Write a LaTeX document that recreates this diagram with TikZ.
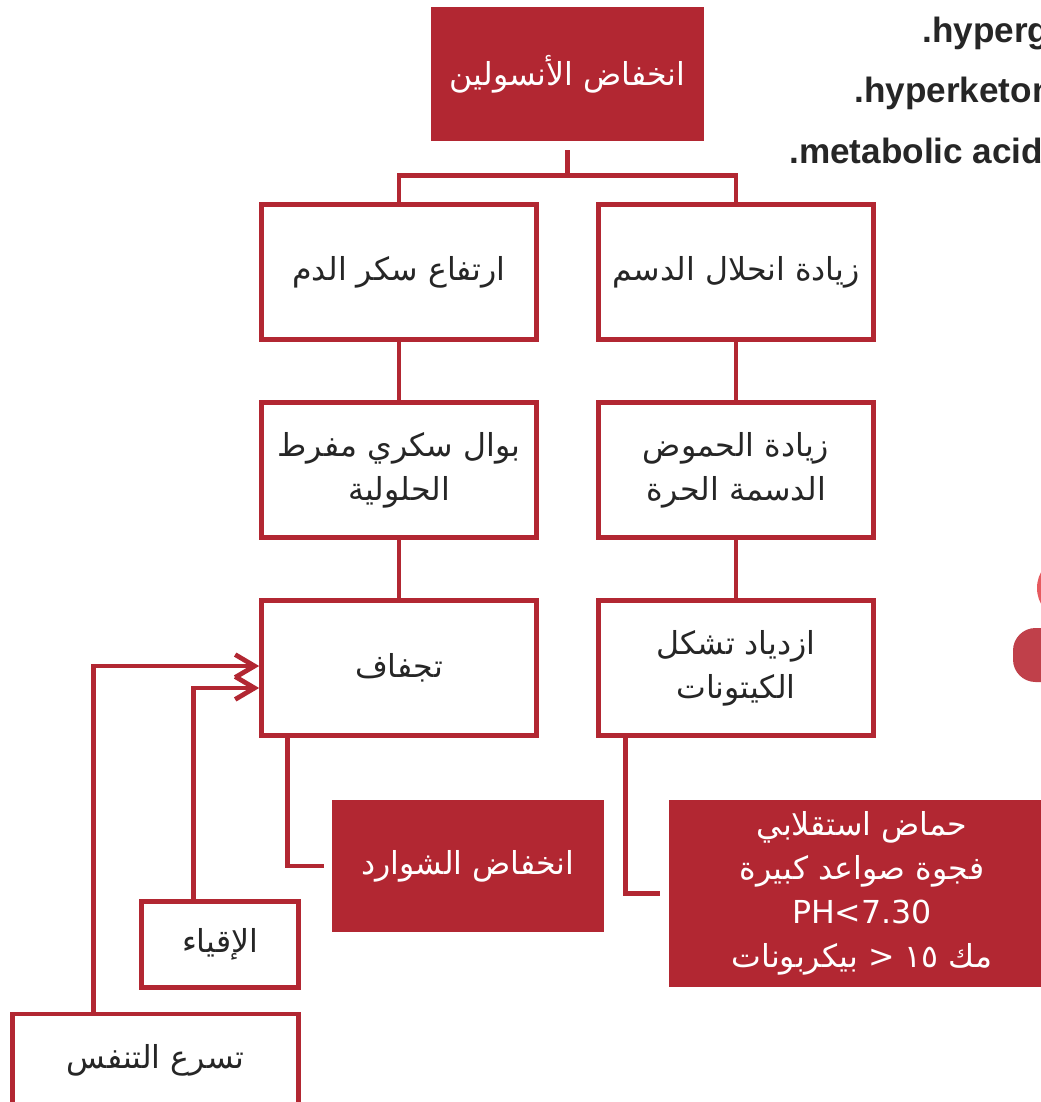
\documentclass[tikz,border=0pt]{standalone}
\usepackage{fontspec}
\usetikzlibrary{arrows.meta}
\usetikzlibrary{positioning}
\TeXXeTstate=1
\newfontfamily\arabicfont[Script=Arabic]{DejaVu Sans}
\newfontfamily\latinfont{Liberation Sans}
\definecolor{boxred}{HTML}{B22732}
\definecolor{inkgray}{HTML}{262626}
\definecolor{blobred}{HTML}{C0404A}
\definecolor{blobpink}{HTML}{E65A5F}
\tikzstyle{redbox}=[rectangle,fill=boxred,text=white,inner sep=0mm,minimum width=5.46cm,minimum height=2.68cm,align=center]
\tikzstyle{outbox}=[rectangle,draw=boxred,fill=white,text=inkgray,inner sep=0mm,minimum width=5.5cm,minimum height=2.7cm,align=center]
\tikzstyle{wire}=[draw=boxred]
\tikzstyle{feed}=[wire,-{Straight Barb[length=11pt,width=13pt]}]
\tikzstyle{engl}=[anchor=base west,inner sep=0mm,text=inkgray,font=\latinfont\bfseries\fontsize{20}{24}\selectfont]
\tikzset{every picture/.style={
    line width=2.7pt
  }
}

\begin{document}
\begin{tikzpicture}[x=0.02cm,y=-0.02cm,every node/.style={font=\arabicfont\fontsize{18}{25}\selectfont}]
        \useasboundingbox (0,0) rectangle (1041,1102);
        \clip (0,0) rectangle (1041,1102);
        % main chain
        \node[redbox] at (567.5,74) (insulin) {\beginR انخفاض الأنسولين\endR};
        \node[outbox] at (399,272) (glucose) {\beginR ارتفاع سكر الدم\endR};
        \node[outbox] at (736,272) (lipolysis) {\beginR زيادة انحلال الدسم\endR};
        \node[outbox] at (399,470) (polyuria) {\beginR بوال سكري مفرط\endR\\\beginR الحلولية\endR};
        \node[outbox] at (736,470) (fattyacid) {\beginR زيادة الحموض\endR\\\beginR الدسمة الحرة\endR};
        \node[outbox] at (399,668) (dehyd) {\beginR تجفاف\endR};
        \node[outbox] at (736,668) (ketone) {\beginR ازدياد تشكل\endR\\\beginR الكيتونات\endR};
        \node[redbox,minimum width=5.44cm,minimum height=2.64cm] at (468,866) (lytes) {\beginR انخفاض الشوارد\endR};
        \node[redbox,minimum width=7.72cm,minimum height=3.74cm] at (862,893.5) (acid) {\beginR حماض استقلابي\endR\\\beginR فجوة صواعد كبيرة\endR\\PH<7.30\\\beginR مك ١٥ < بيكربونات\endR};
        \node[outbox,minimum width=3.14cm,minimum height=1.72cm] at (220,944.5) (vomit) {\beginR الإقياء\endR};
        \node[outbox,minimum width=5.72cm,minimum height=1.84cm] at (155.5,1060) (tachy) {\beginR تسرع التنفس\endR};
        % connectors
        \draw[wire] ([yshift=-0.14cm]insulin.south) -- ++(0,25) coordinate (fork) -| (glucose.north);
        \draw[wire] (fork) -| (lipolysis.north);
        \draw[wire] (glucose) -- (polyuria);
        \draw[wire] (polyuria) -- (dehyd);
        \draw[wire] (lipolysis) -- (fattyacid);
        \draw[wire] (fattyacid) -- (ketone);
        \draw[wire,shorten >=0.12cm] ([xshift=0.56cm]dehyd.south west) |- (lytes.west);
        \draw[wire,shorten >=0.14cm] ([xshift=0.58cm]ketone.south west) |- (acid.west);
        \draw[feed] ([xshift=1.09cm]vomit.north west) |- ([yshift=-0.4cm]dehyd.west);
        \draw[feed] ([xshift=1.67cm]tachy.north west) |- ([yshift=0.04cm]dehyd.west);
        % english notes, cut by the page edge
        \node[engl] at (920,42) (hgly) {.hyperg};
        \node[engl] at (852,102) (hket) {.hyperketon};
        \node[engl] at (787,163) (macid) {.metabolic acido};
        % shapes at the right edge
        \fill[blobpink] (1060,588) ellipse [x radius=0.46cm, y radius=0.56cm];
        \fill[blobred,rounded corners=0.45cm] (1013,628) rectangle (1085,682);
      \end{tikzpicture}
\end{document}
